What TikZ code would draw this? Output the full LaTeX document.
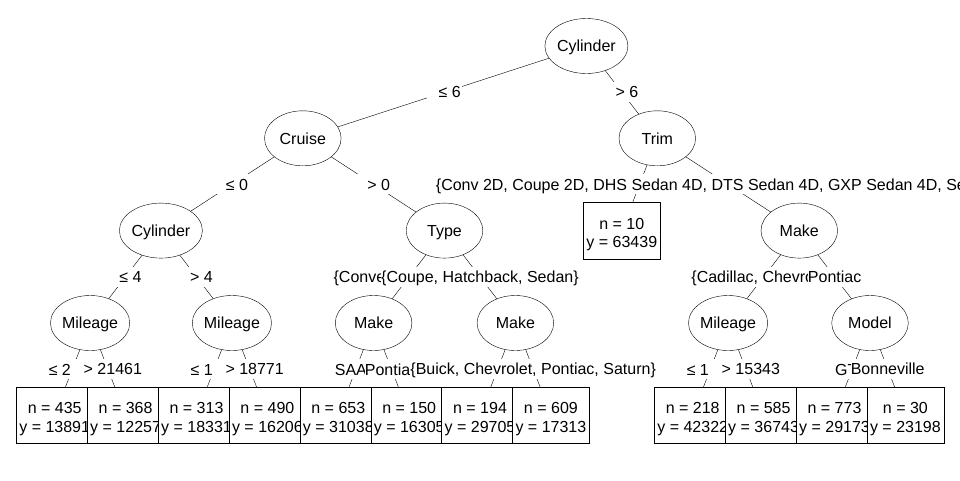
\documentclass[tikz,border=0pt]{standalone}
\usepackage{fontspec}
\setmainfont{Liberation Sans}
\usetikzlibrary{shapes.geometric}
\pgfdeclarelayer{paper}
\pgfdeclarelayer{bg}
\pgfsetlayers{paper,bg,main}
\tikzset{
  inner/.style={ellipse, draw, fill=white, minimum width=76.6pt, minimum height=55pt, inner sep=0pt, text height=11.6pt, text depth=0pt},
  leafbox/.style={rectangle, draw, fill=white, minimum width=77pt, minimum height=56.6pt, inner sep=0pt},
  leaftxt/.style={inner sep=0pt, anchor=base},
  edge/.style={draw=black},
  rlab/.style={fill=white, inner xsep=1.5pt, inner ysep=2pt, text height=13.8pt, text depth=2.2pt},
  clab/.style={fill=white, inner xsep=0pt, inner ysep=2pt, text height=13.8pt, text depth=2.2pt},
  frag/.style={clab, anchor=base west},
}
\newcommand\mkleaf[5]{%
  \node[leafbox] (#1) at (#2,#3) {};
  \node[leaftxt] (#1n) at ([yshift=1.5pt]#1.center) {n = #4};
  \node[leaftxt] (#1y) at ([yshift=-17pt]#1.center) {y = #5};
}
\begin{document}
\begin{tikzpicture}[x=1pt,y=-1pt,font=\fontsize{16}{19}\selectfont,line width=1pt]
\begin{pgfonlayer}{paper}
  \fill[white] (0,0) rectangle (960,480);
\end{pgfonlayer}
\useasboundingbox (0,0) rectangle (960,480);
% inner nodes
\node[inner] (root) at (586.4,46) {Cylinder};
\node[inner] (cruise) at (302.8,138.3) {Cruise};
\node[inner] (trim) at (657.3,138.3) {Trim};
\node[inner] (cyl3) at (160.9,230.6) {Cylinder};
\node[inner] (type) at (444.5,230.6) {Type};
\node[inner] (make3) at (799.3,230.6) {Make};
\node[inner] (mil0) at (90.1,323) {Mileage};
\node[inner] (mil2) at (231.9,323) {Mileage};
\node[inner] (make4) at (373.6,323) {Make};
\node[inner] (make6) at (515.4,323) {Make};
\node[inner] (mil9) at (728.1,323) {Mileage};
\node[inner] (model) at (870.0,323) {Model};
% terminal nodes
\mkleaf{l0}{54.7}{415}{435}{13891}
\mkleaf{l1}{125.6}{415}{368}{12257}
\mkleaf{l2}{196.5}{415}{313}{18331}
\mkleaf{l3}{267.4}{415}{490}{16206}
\mkleaf{l4}{338.3}{415}{653}{31038}
\mkleaf{l5}{409.2}{415}{150}{16305}
\mkleaf{l6}{480.0}{415}{194}{29705}
\mkleaf{l7}{550.9}{415}{609}{17313}
\mkleaf{l8}{621.8}{230.6}{10}{63439}
\mkleaf{l9}{692.7}{415}{218}{42322}
\mkleaf{l10}{763.6}{415}{585}{36743}
\mkleaf{l11}{834.5}{415}{773}{29173}
\mkleaf{l12}{905.4}{415}{30}{23198}
% connectors
\begin{pgfonlayer}{bg}
  \draw[edge] (root.center) -- (cruise.center);
  \draw[edge] (root.center) -- (trim.center);
  \draw[edge] (cruise.center) -- (cyl3.center);
  \draw[edge] (cruise.center) -- (type.center);
  \draw[edge] (cyl3.center) -- (mil0.center);
  \draw[edge] (cyl3.center) -- (mil2.center);
  \draw[edge] (mil0.center) -- (l0.center);
  \draw[edge] (mil0.center) -- (l1.center);
  \draw[edge] (mil2.center) -- (l2.center);
  \draw[edge] (mil2.center) -- (l3.center);
  \draw[edge] (type.center) -- (make4.center);
  \draw[edge] (type.center) -- (make6.center);
  \draw[edge] (make4.center) -- (l4.center);
  \draw[edge] (make4.center) -- (l5.center);
  \draw[edge] (make6.center) -- (l6.center);
  \draw[edge] (make6.center) -- (l7.center);
  \draw[edge] (trim.center) -- (l8.center);
  \draw[edge] (trim.center) -- (make3.center);
  \draw[edge] (make3.center) -- (mil9.center);
  \draw[edge] (make3.center) -- (model.center);
  \draw[edge] (mil9.center) -- (l9.center);
  \draw[edge] (mil9.center) -- (l10.center);
  \draw[edge] (model.center) -- (l11.center);
  \draw[edge] (model.center) -- (l12.center);
\end{pgfonlayer}
% edge labels
\path (root.center) -- node[rlab] (e1) {\hspace*{10pt}≤ 6} (cruise.center);
\path (root.center) -- node[rlab] (e2) {\hspace*{10pt}> 6} (trim.center);
\path (cruise.center) -- node[rlab] (e3) {\hspace*{10pt}≤ 0} (cyl3.center);
\path (cruise.center) -- node[rlab] (e4) {\hspace*{10pt}> 0} (type.center);
\path (cyl3.center) -- node[rlab] (e5) {\hspace*{10pt}≤ 4} (mil0.center);
\path (cyl3.center) -- node[rlab] (e6) {\hspace*{10pt}> 4} (mil2.center);
\node[frag] (f1) at (37.05,375) {\hspace*{11.5pt}≤ 2\hspace*{1.5pt}};
\path (mil0.center) -- node[rlab] (e7) {\hspace*{10pt}> 21461} (l1.center);
\node[frag] (f2) at (178.85,375) {\hspace*{11.5pt}≤ 1\hspace*{1.5pt}};
\path (mil2.center) -- node[rlab] (e8) {\hspace*{10pt}> 18771} (l3.center);
\node[frag] (f6) at (333.45,282.6) {\{Conve};
\node[frag] (f4) at (334.65,375) {SAA};
\node[frag] (f5) at (364.7,375) {Pontia};
\path (type.center) -- node[clab] (e9) {\{Coupe, Hatchback, Sedan\}} (make6.center);
\path (make6.center) -- node[clab] (e10) {\{Buick, Chevrolet, Pontiac, Saturn\}} (l7.center);
\node[frag] (f9) at (435.7,190.25) {\{Conv 2D, Coupe 2D, DHS Sedan 4D, DTS Sedan 4D, GXP Sedan 4D, Se};
\node[frag] (f7) at (691.2,282.6) {\{Cadillac, Chevro};
\path (make3.center) -- node[clab] (e11) {Pontiac} (model.center);
\node[frag] (f3) at (675.05,375) {\hspace*{11.5pt}≤ 1\hspace*{1.5pt}};
\path (mil9.center) -- node[rlab] (e12) {\hspace*{10pt}> 15343} (l10.center);
\node[frag] (f8) at (834.9,375) {GT};
\path (model.center) -- node[clab] (e13) {Bonneville} (l12.center);
\end{tikzpicture}
\end{document}
